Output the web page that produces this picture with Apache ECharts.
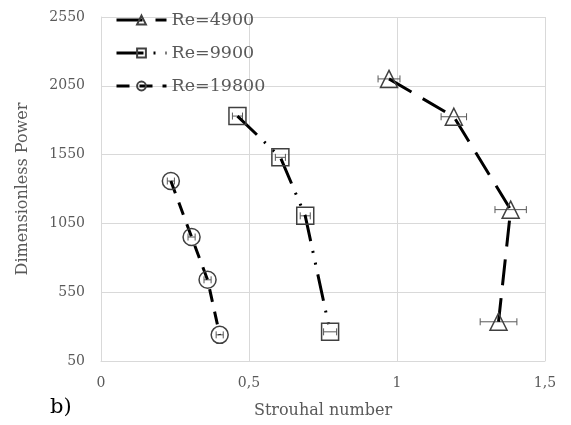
<!DOCTYPE html>
<html><head><meta charset="utf-8">
<script src="https://cdn.jsdelivr.net/npm/echarts@6/dist/echarts.min.js"></script>
<style>html,body{margin:0;padding:0;background:#fff}#chart{width:571px;height:425px}</style>
</head><body><div id="chart"></div>
<script>
// Series labels
const reLabels = ['Re=4900', 'Re=9900', 'Re=19800'];

// Re=4900: Strouhal number, dimensionless power, Strouhal error
const st4900 = [0.973, 1.192, 1.384, 1.343];
const pw4900 = [2100, 1825, 1150, 335];
const err4900 = [0.037, 0.043, 0.053, 0.062];

// Re=9900
const st9900 = [0.461, 0.606, 0.690, 0.774];
const pw9900 = [1830, 1530, 1105, 262];
const err9900 = [0.017, 0.017, 0.017, 0.022];

// Re=19800
const st19800 = [0.236, 0.306, 0.360, 0.401];
const pw19800 = [1358, 951, 640, 240];
const err19800 = [0.012, 0.012, 0.012, 0.012];

// Axis ticks
const xTicks = [0, 0.5, 1, 1.5];
const yTicks = [50, 550, 1050, 1550, 2050, 2550];

const FONT = 'DejaVu Serif';
const GREY = '#595959';
const GRID = '#d9d9d9';

const zip = (xs, ys) => xs.map((x, i) => [x, ys[i]]);
const zip3 = (xs, ys, es) => xs.map((x, i) => [x, ys[i], es[i]]);

// y gridlines only every 500 (ticks every 50 starting from 50)
const yStep = 50;
const ySplitColors = [];
for (let i = 0; i < (yTicks[1] - yTicks[0]) / yStep; i++) ySplitColors.push(i === 0 ? GRID : 'rgba(0,0,0,0)');

function errorBars(params, api) {
  const x = api.value(0), y = api.value(1), e = api.value(2);
  const lo = api.coord([x - e, y]);
  const hi = api.coord([x + e, y]);
  const h = 3.5;
  const style = { stroke: GREY, lineWidth: 1 };
  return {
    type: 'group',
    children: [
      { type: 'line', shape: { x1: lo[0], y1: lo[1], x2: hi[0], y2: hi[1] }, style },
      { type: 'line', shape: { x1: lo[0], y1: lo[1] - h, x2: lo[0], y2: lo[1] + h }, style },
      { type: 'line', shape: { x1: hi[0], y1: hi[1] - h, x2: hi[0], y2: hi[1] + h }, style }
    ]
  };
}

function lineSeries(name, xs, ys, symbol, dash) {
  return {
    name, type: 'line', data: zip(xs, ys),
    symbol, symbolSize: 17,
    lineStyle: { color: '#000', width: 3, type: dash, cap: 'butt' },
    itemStyle: { color: 'rgba(255,255,255,0)', borderColor: '#404040', borderWidth: 1.5 },
    emphasis: { disabled: true },
    z: 3
  };
}

function errSeries(xs, ys, es) {
  return {
    type: 'custom', renderItem: errorBars,
    data: zip3(xs, ys, es), encode: { x: 0, y: 1 },
    silent: true, z: 2
  };
}

const chart = echarts.init(document.getElementById('chart'), null, { renderer: 'canvas' });
chart.setOption({
  animation: false,
  backgroundColor: '#fff',
  grid: { left: 101, right: 26, top: 17, bottom: 64 },
  xAxis: {
    type: 'value', min: xTicks[0], max: xTicks[xTicks.length - 1], interval: 0.5,
    name: 'Strouhal number', nameLocation: 'middle', nameGap: 42,
    nameTextStyle: { fontFamily: FONT, fontSize: 16, color: GREY },
    axisLine: { show: true, lineStyle: { color: GRID, width: 1 } },
    axisTick: { show: false },
    axisLabel: { fontFamily: FONT, fontSize: 14, color: GREY, margin: 15,
      formatter: v => String(v).replace('.', ',') },
    splitLine: { show: true, lineStyle: { color: GRID, width: 1 } }
  },
  yAxis: {
    type: 'value', min: yTicks[0], max: yTicks[yTicks.length - 1], interval: yStep,
    name: 'Dimensionless Power', nameLocation: 'middle', nameGap: 70,
    nameTextStyle: { fontFamily: FONT, fontSize: 16, color: GREY },
    axisLine: { show: true, lineStyle: { color: GRID, width: 1 } },
    axisTick: { show: false },
    axisLabel: { fontFamily: FONT, fontSize: 14, color: GREY, margin: 16,
      formatter: v => yTicks.includes(Math.round(v)) ? String(Math.round(v)) : '' },
    splitLine: { show: true, lineStyle: { color: ySplitColors, width: 1 } }
  },
  legend: {
    data: reLabels, orient: 'vertical', left: 110, top: 6,
    itemWidth: 50, itemHeight: 11, itemGap: 15,
    lineStyle: { width: 3 },
    textStyle: { fontFamily: FONT, fontSize: 17.5, color: GREY }
  },
  graphic: [{
    type: 'text', left: 50, top: 397,
    style: { text: 'b)', fontFamily: FONT, fontSize: 21, fill: '#000' }
  }],
  series: [
    errSeries(st4900, pw4900, err4900),
    errSeries(st9900, pw9900, err9900),
    errSeries(st19800, pw19800, err19800),
    lineSeries(reLabels[0], st4900, pw4900, 'triangle', [26, 13]),
    lineSeries(reLabels[1], st9900, pw9900, 'rect', [27, 10, 2, 10, 2, 10]),
    lineSeries(reLabels[2], st19800, pw19800, 'circle', [13, 10])
  ]
});
</script>
</body></html>
